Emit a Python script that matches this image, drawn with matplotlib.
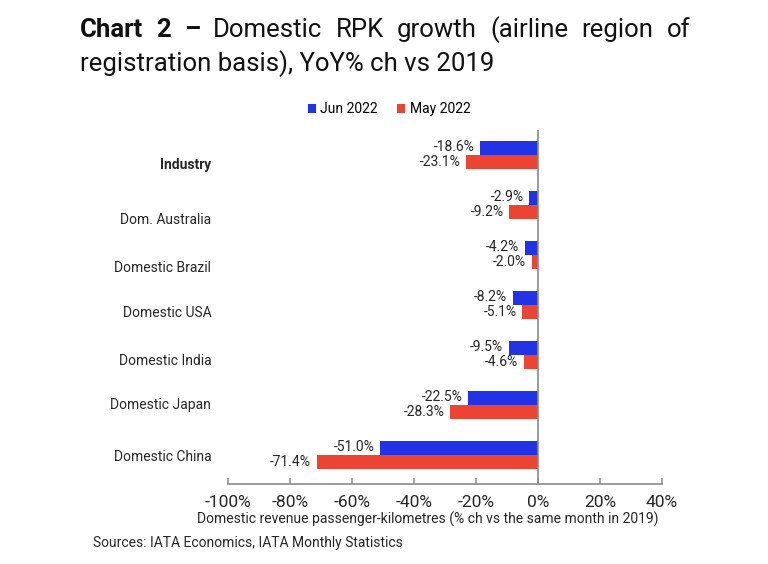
import matplotlib
matplotlib.use("Agg")
import matplotlib.pyplot as plt
import numpy as np

categories = ["Industry", "Dom. Australia", "Domestic Brazil", "Domestic USA",
              "Domestic India", "Domestic Japan", "Domestic China"]
jun_2022 = [-18.6, -2.9, -4.2, -8.2, -9.5, -22.5, -51.0]
may_2022 = [-23.1, -9.2, -2.0, -5.1, -4.6, -28.3, -71.4]
xticks = [-100, -80, -60, -40, -20, 0, 20, 40]

BLUE = "#2233e6"
RED = "#ec4432"
GREY = "#8a8a8a"
INK = "#262626"
BODY = ["Roboto", "DejaVu Sans"]
TITLE = ["Roboto", "DejaVu Sans"]
# the category labels in the source sit a little below their bars (points)
label_drop = [-7, -11, -9, -6, -4, 0, -1.5]

fig = plt.figure(figsize=(7.68, 5.64), dpi=100)
ax = fig.add_axes([228 / 768, 1 - 484 / 564, (662 - 228) / 768, (484 - 130) / 564])

n = len(categories)
ypos = np.arange(n)[::-1]          # Industry on top
h = 0.28
ax.barh(ypos + h / 2, jun_2022, height=h, color=BLUE, label="Jun 2022")
ax.barh(ypos - h / 2, may_2022, height=h, color=RED, label="May 2022")

for y, v in zip(ypos, jun_2022):
    ax.annotate(f"{v:.1f}%", (v, y + h / 2), xytext=(-4, 1), textcoords="offset points",
                ha="right", va="center", fontsize=10, family=BODY, color=INK)
for y, v in zip(ypos, may_2022):
    ax.annotate(f"{v:.1f}%", (v, y - h / 2), xytext=(-4, 0), textcoords="offset points",
                ha="right", va="center", fontsize=10, family=BODY, color=INK)

# category labels, right aligned left of the plot
for i, (y, c) in enumerate(zip(ypos, categories)):
    ax.annotate(c, (0, y), xycoords=("axes fraction", "data"),
                xytext=(-12, label_drop[i]), textcoords="offset points",
                ha="right", va="center", fontsize=10, family=BODY, color=INK,
                fontweight="bold" if i == 0 else "normal")

ax.set_xlim(-100, 40)
ax.set_ylim(-0.58, 6.5)
ax.axvline(0, color=GREY, lw=1.2, zorder=3)
ax.set_xticks(xticks)
ax.set_xticklabels([f"{t}%" for t in xticks], family=BODY, fontsize=12.5, color=INK)
ax.set_yticks([])
ax.tick_params(axis="x", direction="in", length=4, width=1.1, color=GREY, pad=8)
for s in ("top", "right", "left"):
    ax.spines[s].set_visible(False)
ax.spines["bottom"].set_color(GREY)
ax.spines["bottom"].set_linewidth(1.2)
ax.set_xlabel("Domestic revenue passenger-kilometres (% ch vs the same month in 2019)",
              family=BODY, fontsize=10, color=INK)
ax.xaxis.set_label_coords((428 - 228) / (662 - 228), -(512 - 484) / (484 - 130))

fig.legend(loc="center", bbox_to_anchor=(389 / 768, 1 - 109 / 564), ncol=2, frameon=False,
           prop={"family": BODY, "size": 10}, handlelength=0.6, handleheight=0.6,
           handletextpad=0.3, columnspacing=1.4)

fig.text(93 / 768, 1 - 543 / 564, "Sources: IATA Economics, IATA Monthly Statistics",
         family=BODY, fontsize=10, color=INK, va="center")

# title, first line justified between x=80 and x=690
fs = 18.5
words = [("Chart", "bold"), ("2", "bold"), ("\u2013", "bold"), ("Domestic", "normal"),
         ("RPK", "normal"), ("growth", "normal"), ("(airline", "normal"),
         ("region", "normal"), ("of", "normal")]
renderer = fig.canvas.get_renderer()
texts = []
for w, wt in words:
    t = fig.text(0, 1 - 37 / 564, w, family=TITLE, fontsize=fs, fontweight=wt, color="#111111")
    texts.append(t)
widths = [t.get_window_extent(renderer).width for t in texts]
gap = (690 - 80 - sum(widths)) / (len(words) - 1)
x = 80.0
for t, wd in zip(texts, widths):
    t.set_x(x / 768)
    x += wd + gap
fig.text(80 / 768, 1 - 71 / 564, "registration basis), YoY% ch vs 2019", family=TITLE,
         fontsize=fs, color="#111111")

fig.savefig("out.png", dpi=100, facecolor="white")
